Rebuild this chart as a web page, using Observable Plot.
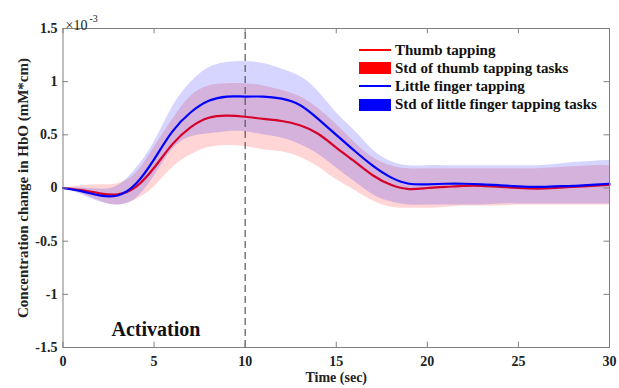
<!DOCTYPE html>
<html><head><meta charset="utf-8">
<script src="https://cdn.jsdelivr.net/npm/d3@7"></script>
<script src="https://cdn.jsdelivr.net/npm/@observablehq/plot@0.6"></script>
<style>
body{margin:0;background:#fff;}
#wrap{position:relative;width:619px;height:388px;overflow:hidden;}
#legend{position:absolute;left:359px;top:41px;font-family:"Liberation Serif","Times New Roman",serif;font-weight:bold;font-size:15px;color:#111;}
#legend .row{display:flex;align-items:center;height:18.2px;white-space:nowrap;}
#legend .sw{width:32px;height:12px;margin-right:4px;display:flex;align-items:center;}
#legend .ln{width:32px;height:2px;}
#legend .bx{width:32px;height:12px;}
svg text{font-family:"Liberation Serif","Times New Roman",serif;}
</style></head>
<body><div id="wrap"><div id="plot"></div><div id="legend"></div></div>
<script>
// ---- data (values in units of 1e-3 mM*cm) ----
const time = [0,1,2,3,4,5,6,7,8,9,10,11,12,13,14,15,16,17,18,19,20,21,22,23,24,25,26,27,28,29,30];
const thumbMean  = [0,-0.02,-0.05,-0.06,0.01,0.19,0.41,0.57,0.66,0.68,0.67,0.65,0.63,0.59,0.51,0.38,0.25,0.12,0.03,-0.01,0.0,0.01,0.02,0.02,0.01,0.0,-0.005,0.0,0.01,0.02,0.03];
const thumbHigh  = [0,0.02,0.03,0.04,0.14,0.38,0.64,0.86,0.96,0.98,0.98,0.96,0.92,0.86,0.75,0.60,0.43,0.29,0.21,0.18,0.18,0.18,0.18,0.18,0.18,0.18,0.18,0.19,0.20,0.21,0.21];
const thumbLow   = [0,-0.05,-0.12,-0.16,-0.11,0.01,0.19,0.31,0.38,0.40,0.39,0.36,0.34,0.29,0.20,0.08,-0.02,-0.12,-0.18,-0.19,-0.19,-0.18,-0.17,-0.17,-0.17,-0.16,-0.16,-0.16,-0.16,-0.16,-0.16];
const littleMean = [0,-0.03,-0.07,-0.07,0.04,0.27,0.53,0.71,0.82,0.86,0.86,0.86,0.84,0.78,0.65,0.50,0.35,0.21,0.10,0.04,0.035,0.04,0.04,0.035,0.025,0.015,0.01,0.015,0.02,0.03,0.04];
const littleHigh = [0,0.0,-0.01,0.02,0.18,0.43,0.76,0.99,1.13,1.18,1.19,1.17,1.12,1.05,0.91,0.71,0.54,0.36,0.25,0.21,0.21,0.21,0.21,0.21,0.21,0.21,0.21,0.22,0.24,0.25,0.26];
const littleLow  = [0,-0.06,-0.13,-0.16,-0.10,0.11,0.36,0.48,0.51,0.53,0.53,0.50,0.47,0.41,0.32,0.19,0.06,-0.06,-0.13,-0.16,-0.16,-0.16,-0.16,-0.16,-0.15,-0.15,-0.15,-0.15,-0.15,-0.15,-0.15];
const xTicks = [0,5,10,15,20,25,30];
const yTicks = [-1.5,-1,-0.5,0,0.5,1,1.5];
const stimulusEnd = [10];
const annotations = [{t:5.1, v:-1.33, label:"Activation"}];
const legendLabels = ["Thumb tapping","Std of thumb tapping tasks","Little finger tapping","Std of little finger tapping tasks"];
const xLabel = "Time (sec)";
const yLabel = "Concentration change in HbO (mM*cm)";

const rows = time.map((t,i)=>({t, thumb:thumbMean[i], thumbHigh:thumbHigh[i], thumbLow:thumbLow[i],
  little:littleMean[i], littleHigh:littleHigh[i], littleLow:littleLow[i]}));

const RED = "#ff0000", BLUE = "#0000ff", AX = "#808080";
const curve = "natural";
const xd = [0,30], yd = [-1.5,1.5];
const tx = 0.05*(yd[1]-yd[0])/3, ty = 0.3*(xd[1]-xd[0])/30;

const chart = Plot.plot({
  width: 619, height: 388,
  marginLeft: 62.5, marginRight: 10, marginTop: 28, marginBottom: 41,
  style: {fontFamily: '"Liberation Serif","Times New Roman",serif', background: "#fff"},
  x: {domain: xd, axis: null},
  y: {domain: yd, axis: null},
  marks: [
    Plot.areaY(rows, {x:"t", y1:"thumbLow", y2:"thumbHigh", fill:RED, fillOpacity:0.165, curve}),
    Plot.lineY(rows, {x:"t", y:"thumb", stroke:RED, strokeWidth:2.2, curve}),
    Plot.areaY(rows, {x:"t", y1:"littleLow", y2:"littleHigh", fill:BLUE, fillOpacity:0.165, curve}),
    Plot.lineY(rows, {x:"t", y:"little", stroke:BLUE, strokeWidth:2.2, curve}),
    Plot.ruleX(stimulusEnd, {x:d=>d, y1:yd[0], y2:yd[1], stroke:"#555", strokeWidth:1.2, strokeDasharray:"7,4"}),
    // inward ticks
    Plot.ruleX(xTicks, {x:d=>d, y1:yd[0], y2:yd[0]+tx, stroke:AX}),
    Plot.ruleX(xTicks, {x:d=>d, y1:yd[1], y2:yd[1]-tx, stroke:AX}),
    Plot.ruleY(yTicks, {y:d=>d, x1:xd[0], x2:xd[0]+ty, stroke:AX}),
    Plot.ruleY(yTicks, {y:d=>d, x1:xd[1], x2:xd[1]-ty, stroke:AX}),
    Plot.frame({stroke:AX}),
    Plot.axisX({ticks:xTicks, tickSize:0, tickPadding:9, tickFormat:d=>String(d), fontSize:14, fontWeight:"bold", fill:"#222", label:null}),
    Plot.axisY({ticks:yTicks, tickSize:0, tickPadding:5.5, tickFormat:d=>String(d), fontSize:14, fontWeight:"bold", fill:"#222", label:null}),
    Plot.text([xLabel], {text:d=>d, frameAnchor:"bottom", dy:34, fontSize:14, fontWeight:"bold", fill:"#222"}),
    Plot.text([yLabel], {text:d=>d, frameAnchor:"left", textAnchor:"middle", dx:-40, rotate:-90, fontSize:15, fontWeight:"bold", fill:"#222"}),
    Plot.text(["\u00d710"], {text:d=>d, frameAnchor:"top-left", textAnchor:"start", dx:2.5, dy:-8, fontSize:14, fill:"#222"}),
    Plot.text(["-3"], {text:d=>d, frameAnchor:"top-left", textAnchor:"start", dx:26.5, dy:-14, fontSize:10, fill:"#222"}),
    Plot.text(annotations, {x:"t", y:"v", text:"label", fontSize:20, fontWeight:"bold", fill:"#111"})
  ]
});
document.getElementById("plot").appendChild(chart);

const leg = document.getElementById("legend");
const kinds = [["ln",RED],["bx",RED],["ln",BLUE],["bx",BLUE]];
legendLabels.forEach((lab,i)=>{
  const r = document.createElement("div"); r.className="row";
  const sw = document.createElement("div"); sw.className="sw";
  const s = document.createElement("div"); s.className=kinds[i][0]; s.style.background=kinds[i][1];
  sw.appendChild(s); r.appendChild(sw);
  const t = document.createElement("span"); t.textContent = lab; r.appendChild(t);
  leg.appendChild(r);
});
</script>
</body></html>
